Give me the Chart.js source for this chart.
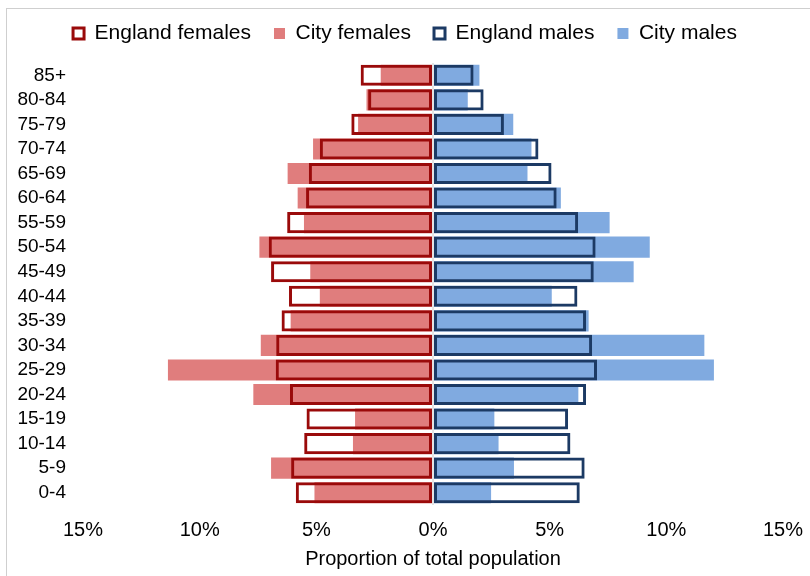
<!DOCTYPE html>
<html>
<head>
<meta charset="utf-8">
<script src="https://cdn.jsdelivr.net/npm/chart.js@4/dist/chart.umd.min.js"></script>
<style>
  body { margin: 0; background: #fff; }
  #wrap { position: relative; width: 810px; height: 576px; overflow: hidden; }
  /* light frame round the chart area, running off the right and bottom */
  #frame { position: absolute; left: 6px; top: 8px; width: 900px; height: 700px;
           border-left: 1px solid #cfcfcf; border-top: 1px solid #cfcfcf; }
  #pyramid { position: absolute; left: 0; top: 0; }
</style>
</head>
<body>
<div id="wrap">
  <div id="frame"></div>
  <canvas id="pyramid" width="810" height="576"></canvas>
</div>
<script>
// Age bands, oldest at the top
const ageBands = ['85+', '80-84', '75-79', '70-74', '65-69', '60-64', '55-59', '50-54', '45-49',
                  '40-44', '35-39', '30-34', '25-29', '20-24', '15-19', '10-14', '5-9', '0-4'];

// Share of total population, % (females shown on the left)
const englandFemales = [3.10, 2.78, 3.50, 4.85, 5.32, 5.44, 6.25, 7.04, 6.94,
                        6.17, 6.49, 6.72, 6.74, 6.13, 5.42, 5.52, 6.08, 5.88];
const cityFemales    = [2.24, 2.85, 3.21, 5.14, 6.23, 5.80, 5.53, 7.44, 5.26,
                        4.85, 6.10, 7.38, 11.36, 7.70, 3.34, 3.43, 6.94, 5.08];
const englandMales   = [1.74, 2.17, 3.04, 4.52, 5.08, 5.30, 6.22, 6.97, 6.89,
                        6.19, 6.56, 6.82, 7.03, 6.56, 5.79, 5.89, 6.50, 6.29];
const cityMales      = [1.99, 1.49, 3.44, 4.22, 4.05, 5.48, 7.57, 9.29, 8.60,
                        5.09, 6.67, 11.63, 12.04, 6.23, 2.63, 2.81, 3.47, 2.49];

const xTicks = [-15, -10, -5, 0, 5, 10, 15];

const FONT = "'Liberation Sans', Arial, sans-serif";

new Chart(document.getElementById('pyramid'), {
    type: 'bar',
    data: {
        labels: ageBands,
        datasets: [{
            // outline bars first so they sit on top of the filled ones
            label: 'England females',
            data: englandFemales.map(v => -v),
            backgroundColor: 'rgba(0,0,0,0)',
            borderColor: '#9a0a0a',
            borderWidth: 3,
            borderSkipped: false
        }, {
            label: 'City females',
            data: cityFemales.map(v => -v),
            backgroundColor: '#e07d7d',
            borderWidth: 0
        }, {
            label: 'England males',
            data: englandMales,
            backgroundColor: 'rgba(0,0,0,0)',
            borderColor: '#1c3a64',
            borderWidth: 3,
            borderSkipped: false
        }, {
            label: 'City males',
            data: cityMales,
            backgroundColor: '#80aae0',
            borderWidth: 0
        }]
    },
    options: {
        indexAxis: 'y',
        responsive: false,
        animation: false,
        datasets: {
            bar: {
                grouped: false,
                barPercentage: 0.86,
                categoryPercentage: 1
            }
        },
        layout: { padding: 0 },
        scales: {
            x: {
                min: -15,
                max: 15,
                z: 1,
                afterBuildTicks: s => { s.ticks = xTicks.map(v => ({ value: v })); },
                afterFit: s => { s.height = 71; },
                grid: {
                    drawTicks: true,
                    tickLength: 6,
                    tickColor: 'rgba(0,0,0,0)',
                    lineWidth: 2,
                    color: c => (c.tick && c.tick.value === 0) ? '#e4e4e4' : 'rgba(0,0,0,0)'
                },
                border: { display: false },
                ticks: {
                    color: '#000',
                    padding: 7,
                    font: { family: FONT, size: 20 },
                    callback: v => Math.abs(v) + '%'
                },
                title: {
                    display: true,
                    text: 'Proportion of total population',
                    color: '#000',
                    font: { family: FONT, size: 20 },
                    padding: { top: 3, bottom: 5 }
                }
            },
            x2: {
                // spacer between legend and plot
                type: 'linear',
                position: 'top',
                grid: { display: false, drawTicks: false },
                border: { display: false },
                ticks: { display: false },
                afterFit: s => { s.height = 9; }
            },
            y: {
                grid: { display: false, drawTicks: false },
                border: { display: false },
                ticks: {
                    color: '#000',
                    padding: 17,
                    autoSkip: false,
                    font: { family: FONT, size: 19 }
                },
                afterFit: s => { s.width = 83; }
            },
            y2: {
                // room on the right for the last tick label
                type: 'linear',
                position: 'right',
                grid: { display: false, drawTicks: false },
                border: { display: false },
                ticks: { display: false },
                afterFit: s => { s.width = 21; }
            }
        },
        plugins: {
            legend: {
                position: 'top',
                labels: {
                    color: '#000',
                    boxWidth: 11,
                    boxHeight: 11,
                    padding: 23,
                    font: { family: FONT, size: 21 }
                }
            },
            tooltip: { enabled: false }
        }
    }
});
</script>
</body>
</html>
